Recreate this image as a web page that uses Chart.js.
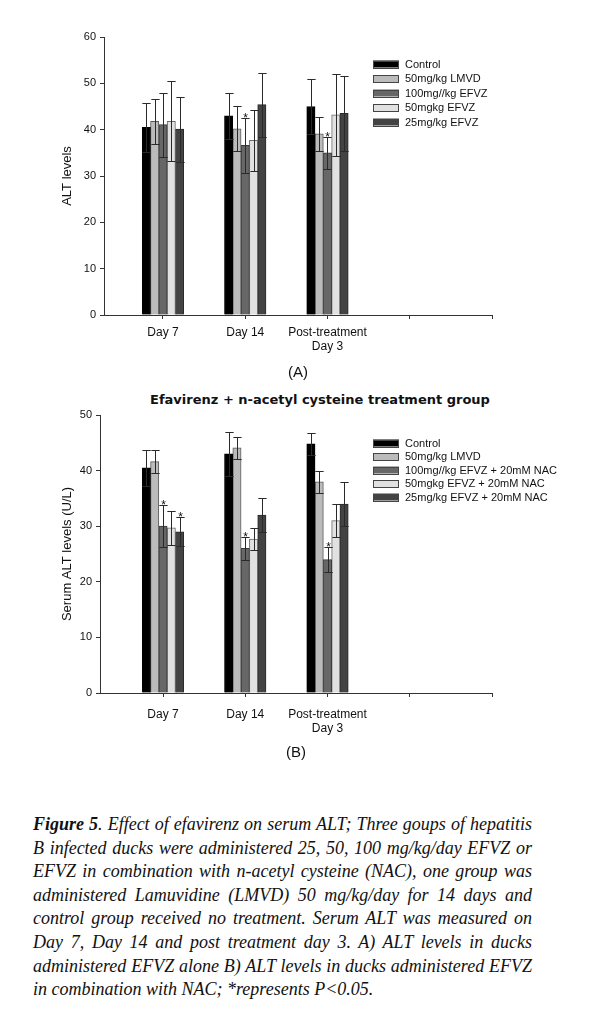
<!DOCTYPE html>
<html>
<head>
<meta charset="utf-8">
<script src="https://cdn.jsdelivr.net/npm/chart.js@4.4.1/dist/chart.umd.min.js"></script>
<style>
  html, body { margin: 0; padding: 0; background: #fff; }
  body { width: 611px; height: 1009px; position: relative; overflow: hidden; }
  .wrap { position: absolute; left: 0; width: 611px; }
  #wrapA { top: 0; height: 390px; }
  #wrapB { top: 390px; height: 380px; }
  #titleB { position: absolute; left: 0; width: 640px; top: 392px; text-align: center;
            font: bold 13px "DejaVu Sans", sans-serif; color: #111; }
  #caption { position: absolute; left: 33px; top: 813px; width: 499px;
             font: italic 18px "Liberation Serif", "Times New Roman", serif;
             line-height: 23.6px; text-align: justify; color: #111; }
</style>
</head>
<body>
<div class="wrap" id="wrapA"><canvas id="chartA" width="611" height="390"></canvas></div>
<div id="titleB">Efavirenz + n-acetyl cysteine treatment group</div>
<div class="wrap" id="wrapB"><canvas id="chartB" width="611" height="380"></canvas></div>
<div id="caption"><b>Figure 5</b>. Effect of efavirenz on serum ALT; Three goups of hepatitis B infected ducks were administered 25, 50, 100 mg/kg/day EFVZ or EFVZ in combination with n-acetyl cysteine (NAC), one group was administered Lamuvidine (LMVD) 50 mg/kg/day for 14 days and control group received no treatment. Serum ALT was measured on Day 7, Day 14 and post treatment day 3. A) ALT levels in ducks administered EFVZ alone B) ALT levels in ducks administered EFVZ in combination with NAC; *represents P&lt;0.05.</div>
<script>
// ---- data ----
const categories = ['Day 7', 'Day 14', ['Post-treatment', 'Day 3']];
const tickPositions = [1, 2, 3, 4, 5];

const labelsA = ['Control', '50mg/kg LMVD', '100mg//kg EFVZ', '50mgkg EFVZ', '25mg/kg EFVZ'];
const labelsB = ['Control', '50mg/kg LMVD', '100mg//kg EFVZ + 20mM NAC', '50mgkg EFVZ + 20mM NAC', '25mg/kg EFVZ + 20mM NAC'];

// Panel A: EFVZ alone (mean, error)
const aControl = [40.5, 43.0, 45.0];
const aLMVD    = [41.8, 40.2, 39.1];
const aEFVZ100 = [41.1, 36.6, 35.0];
const aEFVZ50  = [41.8, 37.7, 43.2];
const aEFVZ25  = [40.1, 45.4, 43.5];
const aErrControl = [5.3, 5.0, 5.9];
const aErrLMVD    = [4.9, 4.9, 3.7];
const aErr100     = [6.9, 5.9, 3.5];
const aErr50      = [8.6, 6.6, 8.8];
const aErr25      = [7.0, 6.9, 8.1];
const aSig = [[0,0,0],[0,0,0],[0,1,1],[0,0,0],[0,0,0]];

// Panel B: EFVZ + NAC (mean, error)
const bControl = [40.5, 43.0, 44.8];
const bLMVD    = [41.6, 44.1, 38.0];
const bEFVZ100 = [30.0, 26.0, 24.0];
const bEFVZ50  = [29.7, 27.7, 31.0];
const bEFVZ25  = [29.0, 32.0, 34.0];
const bErrControl = [3.2, 4.0, 2.0];
const bErrLMVD    = [2.1, 2.0, 2.0];
const bErr100     = [3.8, 2.0, 2.2];
const bErr50      = [3.0, 2.0, 3.0];
const bErr25      = [2.6, 3.0, 4.0];
const bSig = [[0,0,0],[0,0,0],[1,1,1],[0,0,0],[1,0,0]];

const fills = ['#000000', '#bbbbbb', '#676767', '#e1e1e1', '#434343'];
const borders = ['#000000', '#5a5a5a', '#3a3a3a', '#6a6a6a', '#2a2a2a'];

// ---- plugins ----
const errorBars = {
  id: 'errorBars',
  afterDatasetsDraw(chart) {
    const ctx = chart.ctx, ys = chart.scales.y;
    chart.data.datasets.forEach((ds, i) => {
      const meta = chart.getDatasetMeta(i);
      meta.data.forEach((el, j) => {
        const v = ds.data[j].y, e = ds.errors[j];
        const x = Math.round(el.x) + 0.5;
        const hw = el.width / 2;
        const yt = Math.round(ys.getPixelForValue(v + e)) + 0.5;
        const yb = Math.round(ys.getPixelForValue(v - e)) + 0.5;
        ctx.save();
        ctx.strokeStyle = '#2a2a2a';
        ctx.lineWidth = 1;
        ctx.beginPath();
        ctx.moveTo(x, yt); ctx.lineTo(x, yb);
        ctx.moveTo(x - hw, yt); ctx.lineTo(x + hw, yt);
        ctx.moveTo(x - hw, yb); ctx.lineTo(x + hw, yb);
        ctx.stroke();
        if (ds.sig[j]) {
          ctx.fillStyle = '#111';
          ctx.font = '12px "Liberation Sans", Arial, sans-serif';
          ctx.textAlign = 'center';
          ctx.textBaseline = 'alphabetic';
          ctx.fillText('*', x, yt + 3);
        }
        ctx.restore();
      });
    });
  }
};

const boxLegend = {
  id: 'boxLegend',
  afterDraw(chart) {
    const o = chart.options.plugins.boxLegend;
    const ctx = chart.ctx;
    ctx.save();
    chart.data.datasets.forEach((ds, i) => {
      const cy = o.y + i * o.step;
      ctx.fillStyle = ds.backgroundColor;
      ctx.fillRect(o.x, cy - 3.5, 26, 7);
      ctx.strokeStyle = '#444';
      ctx.lineWidth = 1;
      ctx.strokeRect(o.x + 0.5, Math.round(cy - 3.5) + 0.5, 25, 7);
      ctx.fillStyle = '#111';
      ctx.font = '11px "Liberation Sans", Arial, sans-serif';
      ctx.textAlign = 'left';
      ctx.textBaseline = 'middle';
      ctx.fillText(ds.label, o.x + 32, cy + 0.5);
    });
    ctx.restore();
  }
};

function makeDatasets(labels, means, errs, sig) {
  return labels.map((lab, i) => ({
    label: lab,
    data: means[i].map((v, j) => ({ x: j + 1, y: v })),
    errors: errs[i],
    sig: sig[i],
    backgroundColor: fills[i],
    borderColor: borders[i],
    borderWidth: 1,
    barThickness: 8.3,
    grouped: true
  }));
}

function makeChart(id, opt) {
  return new Chart(document.getElementById(id), {
    type: 'bar',
    data: { datasets: makeDatasets(opt.labels, opt.means, opt.errs, opt.sig) },
    options: {
      responsive: false,
      animation: false,
      layout: { padding: { top: opt.padTop, right: 119, left: 0, bottom: 0 } },
      plugins: {
        legend: { display: false },
        tooltip: { enabled: false },
        boxLegend: { x: 373, y: opt.legendY, step: opt.legendStep }
      },
      scales: {
        x: {
          type: 'linear',
          min: opt.xMin, max: 5,
          offset: false,
          afterBuildTicks: (s) => { s.ticks = tickPositions.map(v => ({ value: v })); },
          afterFit: (s) => { s.height = opt.xHeight; },
          grid: { display: true, drawOnChartArea: false, drawTicks: true, tickLength: 4, color: '#333', offset: false },
          border: { display: true, color: '#333', width: 1 },
          ticks: {
            autoSkip: false, maxRotation: 0, padding: opt.xPad, color: '#111',
            font: { family: '"Liberation Sans", Arial, sans-serif', size: 12, lineHeight: 1.1 },
            callback: (v) => (v >= 1 && v <= categories.length) ? categories[v - 1] : ''
          },
          title: {
            display: true, text: opt.panel, color: '#111',
            font: { family: '"Liberation Sans", Arial, sans-serif', size: 15, lineHeight: 1.2 },
            padding: { top: 0, bottom: 8 }
          }
        },
        y: {
          min: 0, max: opt.yMax,
          afterFit: (s) => { s.width = opt.yWidth; },
          grid: { display: true, drawOnChartArea: false, drawTicks: true, tickLength: 4, color: '#333' },
          border: { display: true, color: '#333', width: 1 },
          ticks: {
            stepSize: 10, padding: 4, color: '#111',
            font: { family: '"Liberation Sans", Arial, sans-serif', size: 11 }
          },
          title: {
            display: true, text: opt.yTitle, color: '#111',
            font: { family: '"Liberation Sans", Arial, sans-serif', size: 13, lineHeight: 1.2 },
            padding: { top: 60, bottom: 0 }
          }
        }
      }
    },
    plugins: [errorBars, boxLegend]
  });
}

makeChart('chartA', {
  labels: labelsA,
  means: [aControl, aLMVD, aEFVZ100, aEFVZ50, aEFVZ25],
  errs: [aErrControl, aErrLMVD, aErr100, aErr50, aErr25],
  sig: aSig,
  padTop: 37, xMin: 0.283, xHeight: 75, xPad: 7.5, yWidth: 104, yMax: 60,
  yTitle: 'ALT levels', panel: '(A)', legendY: 64, legendStep: 14.5
});

makeChart('chartB', {
  labels: labelsB,
  means: [bControl, bLMVD, bEFVZ100, bEFVZ50, bEFVZ25],
  errs: [bErrControl, bErrLMVD, bErr100, bErr50, bErr25],
  sig: bSig,
  padTop: 25, xMin: 0.234, xHeight: 77, xPad: 11.5, yWidth: 100, yMax: 50,
  yTitle: 'Serum ALT levels (U/L)', panel: '(B)', legendY: 53, legendStep: 13.5
});
</script>
</body>
</html>
